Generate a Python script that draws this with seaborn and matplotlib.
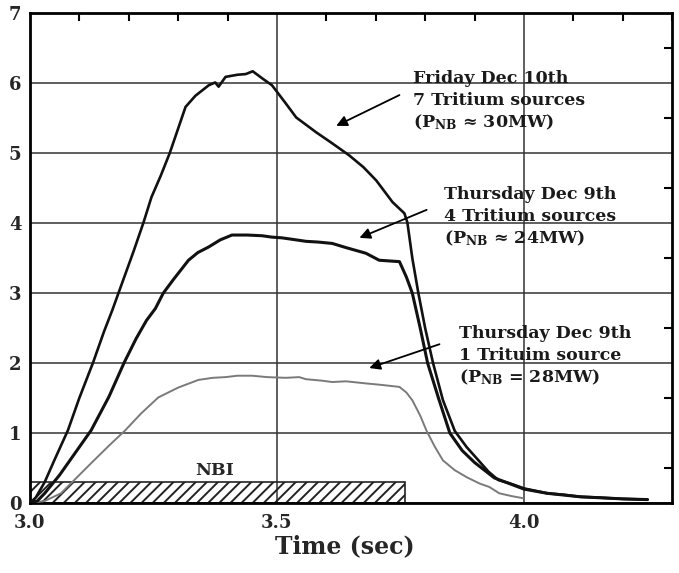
import numpy as np
import pandas as pd
import matplotlib
matplotlib.use("Agg")
import matplotlib.pyplot as plt
import seaborn as sns
from matplotlib.ticker import MultipleLocator

# ---- data ----
fri_t = [3.000, 3.012, 3.030, 3.050, 3.077, 3.100, 3.128, 3.150, 3.167, 3.189,
         3.210, 3.230, 3.246, 3.265, 3.283, 3.300, 3.315, 3.335, 3.362, 3.375,
         3.382, 3.396, 3.420, 3.437, 3.451, 3.470, 3.490, 3.518, 3.539, 3.560,
         3.579, 3.610, 3.646, 3.675, 3.701, 3.734, 3.758, 3.764, 3.774, 3.786,
         3.800, 3.816, 3.836, 3.860, 3.884, 3.908, 3.928, 3.948, 3.972, 4.000,
         4.020, 4.047, 4.080, 4.114, 4.150, 4.200, 4.250]
fri_p = [0.00, 0.08, 0.30, 0.62, 1.04, 1.50, 2.01, 2.45, 2.76, 3.19,
         3.60, 4.01, 4.37, 4.68, 5.00, 5.35, 5.66, 5.82, 5.97, 6.01,
         5.95, 6.09, 6.12, 6.13, 6.17, 6.07, 5.97, 5.71, 5.51, 5.40,
         5.30, 5.15, 4.97, 4.80, 4.61, 4.30, 4.14, 4.01, 3.50, 3.01,
         2.50, 2.00, 1.47, 1.03, 0.80, 0.61, 0.45, 0.33, 0.28, 0.21,
         0.18, 0.14, 0.12, 0.09, 0.08, 0.06, 0.05]

thu4_t = [3.000, 3.015, 3.030, 3.060, 3.090, 3.124, 3.160, 3.191, 3.215, 3.236,
          3.254, 3.270, 3.290, 3.321, 3.340, 3.362, 3.385, 3.409, 3.440, 3.470,
          3.490, 3.510, 3.530, 3.559, 3.583, 3.612, 3.640, 3.680, 3.707, 3.748,
          3.762, 3.774, 3.790, 3.805, 3.827, 3.850, 3.875, 3.900, 3.940, 3.970,
          4.000, 4.047, 4.114, 4.200, 4.250]
thu4_p = [0.00, 0.03, 0.14, 0.40, 0.70, 1.04, 1.52, 2.01, 2.35, 2.61,
          2.78, 3.00, 3.19, 3.47, 3.58, 3.66, 3.76, 3.83, 3.83, 3.82,
          3.80, 3.79, 3.77, 3.74, 3.73, 3.71, 3.65, 3.57, 3.47, 3.45,
          3.23, 3.00, 2.50, 2.00, 1.50, 1.00, 0.75, 0.58, 0.36, 0.28,
          0.20, 0.14, 0.09, 0.06, 0.05]

thu1_t = [3.000, 3.030, 3.063, 3.090, 3.124, 3.160, 3.193, 3.225, 3.260, 3.300,
          3.341, 3.370, 3.396, 3.420, 3.450, 3.480, 3.518, 3.545, 3.559, 3.590,
          3.612, 3.640, 3.680, 3.710, 3.748, 3.762, 3.774, 3.790, 3.803, 3.820,
          3.836, 3.860, 3.884, 3.910, 3.930, 3.950, 3.975, 3.998]
thu1_p = [0.00, 0.03, 0.14, 0.33, 0.57, 0.82, 1.04, 1.28, 1.51, 1.65,
          1.76, 1.79, 1.80, 1.82, 1.82, 1.80, 1.79, 1.80, 1.77, 1.75,
          1.73, 1.74, 1.71, 1.69, 1.66, 1.58, 1.47, 1.25, 1.03, 0.80,
          0.61, 0.47, 0.37, 0.28, 0.23, 0.14, 0.10, 0.07]

nbi_start = 3.0
nbi_end = 3.76
nbi_height = 0.3

x_tick_labels = ["3.0", "3.5", "4.0"]
x_ticks = [3.0, 3.5, 4.0]
y_ticks = [0, 1, 2, 3, 4, 5, 6, 7]

labels = [
    ["Friday Dec 10th", "7 Tritium sources", r"(P$_{\mathbf{NB}}$ ≈ 30MW)"],
    ["Thursday Dec 9th", "4 Tritium sources", r"(P$_{\mathbf{NB}}$ ≈ 24MW)"],
    ["Thursday Dec 9th", "1 Trituim source", r"(P$_{\mathbf{NB}}$ = 28MW)"],
]

# ---- style ----
sns.set_theme(style="white")
plt.rcParams["font.family"] = ["DejaVu Serif"]
plt.rcParams["font.weight"] = "bold"
plt.rcParams["mathtext.fontset"] = "dejavuserif"
plt.rcParams["hatch.linewidth"] = 1.4

fig = plt.figure(figsize=(6.79, 5.73), dpi=100)
ax = fig.add_axes([0.044, 0.122, 0.946, 0.855])

df = pd.concat([
    pd.DataFrame({"t": fri_t, "p": fri_p, "s": "fri"}),
    pd.DataFrame({"t": thu4_t, "p": thu4_p, "s": "thu4"}),
    pd.DataFrame({"t": thu1_t, "p": thu1_p, "s": "thu1"}),
])

sns.lineplot(data=df[df.s == "thu1"], x="t", y="p", color="#7a7a7a", lw=1.4,
             ax=ax, estimator=None, sort=False, zorder=3)
sns.lineplot(data=df[df.s == "thu4"], x="t", y="p", color="#111111", lw=2.2,
             ax=ax, estimator=None, sort=False, zorder=4)
sns.lineplot(data=df[df.s == "fri"], x="t", y="p", color="#111111", lw=1.9,
             ax=ax, estimator=None, sort=False, zorder=4)

# NBI hatched bar
ax.bar([nbi_start], [nbi_height], width=nbi_end - nbi_start, align="edge",
       fill=False, hatch="///", edgecolor="#222222", linewidth=1.2, zorder=2)
ax.text(3.374, 0.47, "NBI", ha="center", va="center", fontsize=12.5,
        fontweight="bold", family="DejaVu Serif")

ax.set_xlim(3.0, 4.3)
ax.set_ylim(0, 7)
ax.set_xticks(x_ticks)
ax.set_xticklabels(x_tick_labels)
ax.set_yticks(y_ticks)
ax.xaxis.set_minor_locator(MultipleLocator(0.1))
ax.yaxis.set_minor_locator(MultipleLocator(0.5))
ax.tick_params(which="both", direction="in", top=True, right=True,
               color="black", width=1.5)
ax.tick_params(which="major", length=0, labelsize=13, pad=8)
ax.tick_params(axis="y", which="major", pad=6)
ax.tick_params(which="minor", length=6)
for lab in ax.get_xticklabels() + ax.get_yticklabels():
    lab.set_fontweight("bold")

ax.grid(True, which="major", color="#333333", lw=1.1)
for sp in ax.spines.values():
    sp.set_color("black")
    sp.set_linewidth(2)

ax.set_xlabel("Time (sec)", fontsize=17, fontweight="bold")
ax.xaxis.set_label_coords(0.49, -0.088)
ax.xaxis.label.set_va("center")
ax.set_ylabel("")

# annotations
text_pos = [(3.776, [6.0, 5.686, 5.371]),
            (3.839, [4.343, 4.029, 3.714]),
            (3.868, [2.357, 2.043, 1.729])]
arrows = [((3.748, 5.83), (3.620, 5.39)),
          ((3.803, 4.19), (3.667, 3.79)),
          ((3.829, 2.27), (3.687, 1.93))]
for (x0, ys), lines in zip(text_pos, labels):
    for y, s in zip(ys, lines):
        ax.text(x0, y, s, ha="left", va="baseline", fontsize=12.5,
                fontweight="bold", color="#1a1a1a", zorder=6)
for tail, head in arrows:
    ax.annotate("", xy=head, xytext=tail,
                arrowprops=dict(arrowstyle="-|>", color="black", lw=1.3,
                                mutation_scale=16, shrinkA=0, shrinkB=0),
                zorder=6)

fig.savefig("out.png", dpi=100)
